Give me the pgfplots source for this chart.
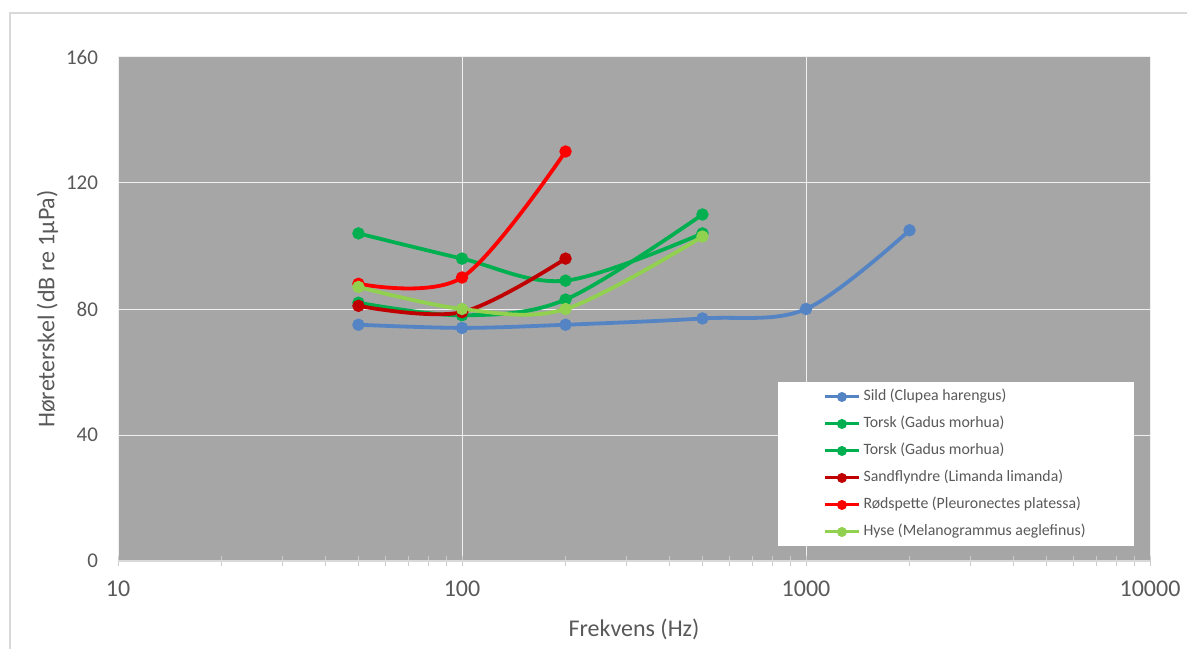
\documentclass[border=0pt]{standalone}
\usepackage{pgfplots}
\pgfplotsset{compat=1.18}
\usepackage{fontspec}
\setmainfont{Carlito}
\definecolor{txt}{HTML}{595959}
\definecolor{bg}{HTML}{A6A6A6}
\definecolor{cSild}{HTML}{5584C4}
\definecolor{cTorsk}{HTML}{00B050}
\definecolor{cSand}{HTML}{C00000}
\definecolor{cRod}{HTML}{FF0000}
\definecolor{cHyse}{HTML}{92D050}
\begin{document}
\begin{tikzpicture}
\useasboundingbox (-59pt,-43.5pt) rectangle (534.5pt,280.5pt);
\draw[color=black!15, line width=0.6pt] (-54pt,-50pt) -- (-54pt,274pt) -- (540pt,274pt);
\begin{axis}[
  at={(0,0)}, anchor=south west,
  scale only axis, width=516pt, height=252pt,
  xmode=log, xmin=10, xmax=10000, ymin=0, ymax=160,
  xtick={10,100,1000,10000}, xticklabels={10,100,1000,10000},
  ytick={0,40,80,120,160},
  axis background/.style={fill=bg},
  axis x line*=bottom, axis y line*=left,
  x axis line style={draw=black!15, line width=0.6pt, -},
  y axis line style={draw=none, -},
  xmajorgrids, ymajorgrids,
  grid style={draw=white!88!gray, line width=0.5pt},
  tick align=center,
  major tick length=5pt, minor tick length=5pt,
  xtick style={draw=black!20, line width=0.5pt},
  minor tick style={draw=black!20, line width=0.5pt},
  ytick style={draw=none},
  xticklabel style={font=\fontsize{12}{12}\selectfont, text=txt, yshift=-4pt},
  yticklabel style={font=\fontsize{10.5}{10.5}\selectfont, text=txt, xshift=-4pt},
  /pgf/number format/assume math mode=true,
  xlabel={Frekvens (Hz)}, ylabel={Høreterskel (dB re 1µPa)},
  xlabel style={font=\fontsize{12}{12}\selectfont, text=txt, yshift=-4pt},
  ylabel style={font=\fontsize{12}{12}\selectfont, text=txt, yshift=-3pt},
  every axis plot/.append style={line width=1.9pt, smooth, tension=0.55, mark=*, mark size=2.1pt, mark options={solid}},
  legend style={at={(0.6395,0.355)}, anchor=north west, draw=none, fill=white,
    font=\fontsize{7.9}{7.9}\selectfont, text=txt, inner xsep=22.5pt, inner ysep=0.5pt,
    nodes={text height=7pt, text depth=3.5pt, inner sep=1.5pt}, row sep=0pt,
    legend cell align=left},
  legend image post style={line width=1.5pt, mark size=1.7pt},
]
\addplot[color=cSild] coordinates {(50,75) (100,74) (200,75) (500,77) (1000,80) (2000,105)};
\addlegendentry{Sild (Clupea harengus)}
\addplot[color=cTorsk] coordinates {(50,104) (100,96) (200,89) (500,104)};
\addlegendentry{Torsk (Gadus morhua)}
\addplot[color=cTorsk] coordinates {(50,82) (100,78) (200,83) (500,110)};
\addlegendentry{Torsk (Gadus morhua)}
\addplot[color=cSand] coordinates {(50,81) (100,79) (200,96)};
\addlegendentry{Sandflyndre (Limanda limanda)}
\addplot[color=cRod] coordinates {(50,88) (100,90) (200,130)};
\addlegendentry{Rødspette (Pleuronectes platessa)}
\addplot[color=cHyse] coordinates {(50,87) (100,80) (200,80) (500,103)};
\addlegendentry{Hyse (Melanogrammus aeglefinus)}
\end{axis}
\end{tikzpicture}
\end{document}
